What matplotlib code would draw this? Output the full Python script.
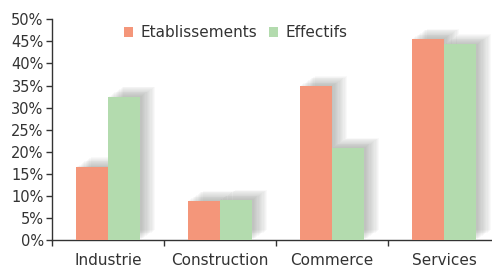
import matplotlib
matplotlib.use("Agg")
import matplotlib.pyplot as plt
import matplotlib.patheffects as pe
import numpy as np

categories = ["Industrie", "Construction", "Commerce", "Services"]
etablissements = [16.5, 8.9, 34.9, 45.6]
effectifs = [32.5, 9.1, 20.9, 44.3]
yticks = [0, 5, 10, 15, 20, 25, 30, 35, 40, 45, 50]

c_etab = "#f4967a"
c_eff = "#b3dbae"
text_col = "#333333"

plt.rcParams["font.family"] = ["DejaVu Sans"]

fig = plt.figure(figsize=(4.92, 2.68), dpi=100)
ax = fig.add_axes([52 / 492, 1 - 240 / 268, 448 / 492, 220.7 / 268])

x = np.arange(len(categories))
w = 0.29


def shadow():
    # soft blurred shadow, built from many faint offset copies
    effects = []
    for k in range(12, 0, -1):
        effects.append(pe.SimplePatchShadow(offset=(k * 0.9, k * 0.6),
                                            shadow_rgbFace="#4a5048", alpha=0.03))
    effects.append(pe.Normal())
    return effects


b1 = ax.bar(x - w / 2, etablissements, w, color=c_etab, label="Etablissements", zorder=3)
b2 = ax.bar(x + w / 2, effectifs, w, color=c_eff, label="Effectifs", zorder=3)
for r in list(b1) + list(b2):
    r.set_path_effects(shadow())

ax.set_xlim(-0.5, len(categories) - 0.5)
ax.set_ylim(0, 50)
ax.set_yticks(yticks)
ax.set_yticklabels([f"{t}%" for t in yticks], fontsize=10.5, color=text_col)
ax.set_xticks(x)
ax.set_xticklabels(categories, fontsize=11, color=text_col)
ax.tick_params(axis="x", which="major", length=0, pad=9.5)
ax.set_xticks(np.arange(len(categories) + 1) - 0.5, minor=True)
ax.tick_params(axis="x", which="minor", length=4, color="#333333", width=1)
ax.tick_params(axis="y", length=4, color="#333333", width=1, pad=2)

for s in ["top", "right"]:
    ax.spines[s].set_visible(False)
for s in ["left", "bottom"]:
    ax.spines[s].set_color("#333333")
    ax.spines[s].set_linewidth(1)

leg = ax.legend(loc="upper left", bbox_to_anchor=(0.13, 1.035), ncol=2, frameon=False,
                fontsize=11, handlelength=0.6, handleheight=0.6, handletextpad=0.45,
                columnspacing=0.8, labelcolor=text_col)
for h in leg.legend_handles:
    h.set_path_effects([])

fig.savefig("out.png", dpi=100)
